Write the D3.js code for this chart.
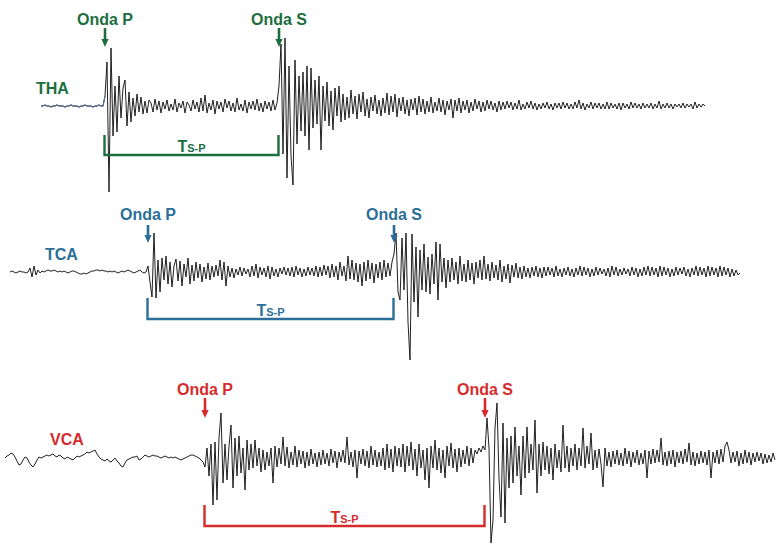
<!DOCTYPE html>
<html>
<head>
<meta charset="utf-8">
<script src="https://cdn.jsdelivr.net/npm/d3@7"></script>
<style>
  html, body { margin: 0; padding: 0; background: #fff; }
  svg { display: block; font-family: "Liberation Sans", Arial, sans-serif; }
</style>
</head>
<body>
<svg id="chart" width="780" height="551"></svg>
<script>
// ---------------- DATA ----------------
const stations = ["THA", "TCA", "VCA"];
const waveLabels = ["Onda P", "Onda S"];
const intervalMain = "T";
const intervalSub = "S-P";

// amplitude samples (uniform time step), positive = up
const thaValues = [
  0,0,1,0,0,-1,0,0,1,0, 0,0,-1,0,0,1,0,0,0,-1, 0,0,1,0,0,0,-1,0,0,1, 0,0,
  10,44,-86,58,-30,20,-26,30,-12,18,26,-20,14,-16,8,-10,12,-6,9,-8,5,-7,6,3,-6,7,-4,5,-7,
  4,-3,6,-5,2,-4,7,-6,3,-2,
  5,-7,4,1,-5,6,-3,4,-6,8,
  -5,11,-7,3,-4,6,-8,5,-3,4,
  -6,7,-2,5,-5,3,-6,8,-4,2,
  -5,6,-7,4,-3,5,-4,7,-5,3,
  -6,5,-3,4,-5,6,-4,3,
  20,62,-48,68,-72,40,-50,-79,46,-38,30,-25,34,-30,40,-44,38,-22,26,-18,
  30,-44,20,-15,24,-20,15,-24,18,-10,20,-16,12,-14,9,-12,16,-8,10,-13,12,-6,
  14,-10,7,-12,9,-5,11,-8,6,-10,
  8,-7,13,-9,10,-6,12,-11,8,-5,
  9,-8,6,-10,7,-4,8,-9,10,-6,
  7,-8,5,-6,9,-7,4,-5,8,-6,
  6,-9,5,-4,7,-12,6,-5,8,-7,
  5,-4,6,-7,4,-5,7,-3,5,-6,
  4,-5,6,-3,5,-4,3,-6,5,-4,
  4,-3,5,-2,4,-4,3,-3,6,-4,
  2,-3,4,-2,5,-3,3,-4,2,-3,
  3,-2,4,-3,2,-4,3,-2,3,-3,
  4,-2,3,-3,2,-3,4,-2,6,-3,
  3,-4,2,-2,4,-3,3,-2,3,-3,
  2,-3,4,-3,3,-2,2,-3,3,-4,
  3,-2,2,-3,4,-2,3,-2,2,-3,
  3,-2,2,-2,3,-3,2,-2,5,-3,
  2,-2,3,-2,2,-3,2,-1,2,-2,
  3,-2,2,-1,2,-3,4,-2,2,-1,2,0
];

const tcaValues = [
  0,1,0,-1,0,1,0,0,-1,0,
  4,-5,6,-3,2,-1,1,0,1,2,
  1,1,2,1,0,1,0,1,0,-1,
  0,1,1,0,-1,-2,-2,-1,-2,-1,
  0,1,1,2,2,1,2,1,1,0,
  1,0,1,0,-1,0,1,0,1,2,
  1,0,-1,0,1,2,0,-1,0,
  6,-10,-25,39,-26,12,-20,14,-8,16,-12,
  10,-15,6,13,-9,11,-14,8,-5,14,
  -12,7,-9,10,-6,8,-10,5,-7,9,
  -8,6,-5,7,-4,12,-8,10,-14,6,
  -5,4,-6,3,-3,5,-4,4,-2,3,
  -5,6,-4,8,-6,5,-3,4,-5,6,
  -7,5,-4,3,-5,4,-2,5,-3,4,
  -4,5,-5,6,-3,4,-5,3,-4,5,
  -3,4,-4,6,-5,5,-4,7,-3,6,
  -6,8,-5,6,-8,10,-4,6,-9,16,
  -7,12,-8,9,-10,8,-14,10,-9,12,
  -7,9,-11,8,-6,10,-8,12,-5,9,-4,10,
  18,39,-20,-28,34,-18,39,-50,-88,38,-30,25,-45,22,-18,28,-20,15,-22,18,
  -12,30,-28,28,-10,14,-16,12,
  -10,14,-8,10,-12,16,-9,8,-10,12,
  -8,9,-12,10,-6,12,-8,16,-7,8,
  -9,10,-6,7,-8,12,-10,6,-7,8,
  -11,7,-5,9,-6,5,-7,6,-5,4,
  -6,5,-4,6,-5,4,-6,5,-4,5,
  -3,4,-5,6,-4,3,-5,4,-3,5,
  -4,3,-5,4,-3,6,-4,5,-3,4,
  -5,3,-4,5,-3,4,-2,3,-4,4,
  -5,6,-3,5,-4,3,-3,4,-2,3,
  -4,5,-3,4,-5,3,-4,5,-3,6,
  -4,5,-3,4,-5,6,-4,5,-3,4,
  -5,3,-4,5,-3,4,-2,5,-4,3,
  -5,4,-3,6,-4,5,-3,4,-5,6,
  -4,5,-3,4,-5,6,-4,5,-3,4,
  -5,3,-4,2,-3,-1
];

const vcaValues = [
  0,2,3,5,4,1,-3,-7,-6,-2,
  1,0,-4,-7,-9,-6,-2,1,0,1,
  2,3,2,3,4,2,1,3,2,0,
  -1,1,0,-1,-2,0,2,1,2,3,
  4,6,5,6,7,8,4,1,-1,-2,
  -3,-1,-3,-4,-2,0,-3,-5,-8,-9,
  -5,-2,-1,0,1,1,2,-2,-1,1,
  3,2,1,2,3,2,2,1,0,1,
  2,1,0,1,0,1,0,-1,-2,-1,
  0,1,2,3,3,2,1,0,-2,-4,
  -9,10,-18,14,-47,16,-42,20,45,-25,
  14,-22,12,33,-30,20,-18,22,-15,10,
  -32,18,-12,14,-10,18,-8,10,-14,8,
  -12,6,-8,10,-25,12,-9,10,-6,21,
  -8,11,-10,6,-7,12,-9,8,-6,7,
  -10,6,-8,9,-6,5,-9,6,-7,8,
  -6,5,-8,9,-5,7,-10,6,-4,8,
  -5,21,-7,6,-9,8,-20,7,-6,9,
  -8,7,-10,12,-7,8,-9,6,-8,10,
  -12,14,-10,9,-14,12,-8,10,-9,14,
  -14,12,-8,16,-12,9,-18,14,-10,8,
  -22,10,-30,12,-10,18,-12,10,-15,8,
  -20,12,-8,15,-10,9,-14,10,-9,8,
  -6,12,-8,10,-5,8,4,10,6,12,
  8,40,10,-85,-62,30,55,-20,-59,35,
  -65,20,-30,22,-25,31,-18,12,-37,22,
  -20,31,-15,14,-12,38,-35,14,-18,16,
  -12,12,-16,10,-22,14,-10,8,-14,33,
  -10,12,-14,10,-8,14,-12,10,-8,30,
  -10,12,-6,25,-12,8,-10,9,-6,-29,
  10,-8,6,-9,7,-6,8,-7,5,-8,
  10,-6,7,-9,6,-5,8,-7,5,-6,
  8,-20,7,-6,9,-5,8,-4,20,-7,
  6,-8,7,-6,8,-9,6,-5,7,-6,
  9,-4,15,-7,6,-8,5,-6,7,-5,
  6,-7,8,-20,6,-5,8,-6,9,-4,
  12,16,8,-5,6,-4,7,-8,5,-6,
  8,-5,6,-7,5,-4,6,-3,5,-6,
  4,-5,3,-4,5,-2
];

const pIndex = [32, 69, 100];
const sIndex = [119, 192, 240];

// ---------------- LAYOUT / STYLE ----------------
const layout = [
  { x0: 41, base: 106, labelX: 36, labelY: 94, arrowTop: 28, arrowTip: 47, textY: 25,
    brTop: 135, brY: 155, color: "#1c6e3f", pre: "#5f6c94" },
  { x0: 10, base: 272, labelX: 45, labelY: 260, arrowTop: 225, arrowTip: 243, textY: 220,
    brTop: 298, brY: 319, color: "#2b6f98", pre: null },
  { x0: 5, base: 458, labelX: 50, labelY: 445, arrowTop: 398, arrowTip: 418, textY: 395,
    brTop: 505, brY: 526, color: "#d52b2b", pre: null }
];
const step = 2;
const allValues = [thaValues, tcaValues, vcaValues];

const svg = d3.select("#chart");

stations.forEach((name, k) => {
  const L = layout[k];
  const vals = allValues[k];
  const x = d3.scaleLinear().domain([0, 1]).range([L.x0, L.x0 + step]);
  const y = d3.scaleLinear().domain([-1, 1]).range([L.base + 1, L.base - 1]);
  const g = svg.append("g");

  const line = d3.line().x((d, i) => x(i)).y(d => y(d));
  g.append("path").datum(vals).attr("d", line)
    .attr("fill", "none").attr("stroke", "#151515").attr("stroke-width", 0.95)
    .attr("stroke-linejoin", "round");

  if (L.pre) {
    g.append("path").datum(vals.slice(0, pIndex[k] + 1)).attr("d", line)
      .attr("fill", "none").attr("stroke", L.pre).attr("stroke-width", 1.2);
  }

  // station label
  g.append("text").attr("x", L.labelX).attr("y", L.labelY)
    .attr("fill", L.color).attr("font-size", 16).attr("font-weight", "bold")
    .text(name);

  // P and S markers
  [pIndex[k], sIndex[k]].forEach((idx, j) => {
    const px = x(idx);
    g.append("text").attr("x", px).attr("y", L.textY).attr("text-anchor", "middle")
      .attr("fill", L.color).attr("font-size", 16).attr("font-weight", "bold")
      .text(waveLabels[j]);
    g.append("line").attr("x1", px).attr("x2", px)
      .attr("y1", L.arrowTop).attr("y2", L.arrowTip - 6)
      .attr("stroke", L.color).attr("stroke-width", 2.6);
    g.append("path")
      .attr("d", `M${px - 3.6},${L.arrowTip - 8} L${px + 3.6},${L.arrowTip - 8} L${px},${L.arrowTip} Z`)
      .attr("fill", L.color);
  });

  // S-P bracket
  const xa = x(pIndex[k]) - 0.5, xb = x(sIndex[k]) - 0.5;
  g.append("path")
    .attr("d", `M${xa},${L.brTop} L${xa},${L.brY} L${xb},${L.brY} L${xb},${L.brTop}`)
    .attr("fill", "none").attr("stroke", L.color).attr("stroke-width", 2.4);

  const t = g.append("text").attr("x", (xa + xb) / 2).attr("y", L.brY - 3)
    .attr("text-anchor", "middle").attr("fill", L.color).attr("font-weight", "bold");
  t.append("tspan").attr("font-size", 16).text(intervalMain);
  t.append("tspan").attr("font-size", 11).text(intervalSub);
});
</script>
</body>
</html>
